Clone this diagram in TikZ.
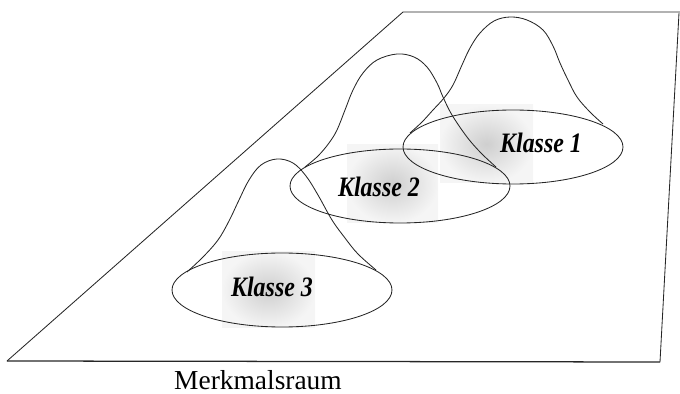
\documentclass[tikz,border=0pt]{standalone}
\usepackage{fontspec}
\setmainfont{Liberation Serif}
\usepackage{tikz}

\begin{document}
\begin{tikzpicture}[x=0.025cm, y=-0.025cm,
  linie/.style={draw=black!85, line width=0.6pt},
  glocke/.style={linie, smooth, tension=0.6},
  wolke/.style={inner color=gray!38, outer color=gray!8},
  klasse/.style={font=\fontsize{20}{24}\selectfont\bfseries\itshape,
    xscale=0.85, inner sep=0pt}]
  \useasboundingbox (0,0) rectangle (680,394);
  % Ebene
  \coordinate (ul) at (7,361);
  \coordinate (ol) at (403,12);
  \coordinate (or) at (680,12);
  \coordinate (ur) at (660,362);
  \draw[linie] (ul) -- (ol) -- (or);
  \draw[linie] (679,13) -- (ur);
  \draw[linie, line width=0.9pt] (ul) -- (ur);
  % Verteilungen
  \shade[wolke] (222,252) rectangle (315,328);
  \shade[wolke] (347,145) rectangle (438,223);
  \shade[wolke] (440,105) rectangle (533,183);
  \draw[linie] (282,290) ellipse [x radius=110, y radius=37];
  \draw[linie] (400,186) ellipse [x radius=110, y radius=37];
  \draw[linie] (513,147) ellipse [x radius=110, y radius=37];
  \draw[glocke] plot coordinates {(187,272) (203,257) (218,240) (229,221)
    (239,200) (249,180) (261,165) (277,159) (293,163) (306,176) (318,195)
    (332,220) (345,238) (358,254) (376,270)};
  \draw[glocke] plot coordinates {(305,167) (318,156) (329,143) (337,130)
    (345,110) (353,90) (363,73) (377,60) (397,54) (414,57) (427,67)
    (437,83) (443,97) (452,115) (467,137) (481,153) (496,167)};
  \draw[glocke] plot coordinates {(410,133) (422,122) (433,110) (444,98)
    (453,85) (462,65) (470,48) (480,33) (494,21) (510,17) (527,20)
    (543,30) (553,46) (560,63) (568,80) (577,97) (590,112) (603,124)};
  \node[klasse] (k1) at (541,143) {Klasse 1};
  \node[klasse] (k2) at (379,187) {Klasse 2};
  \node[klasse] (k3) at (272,287) {Klasse 3};
  \node[font=\fontsize{19.5}{23}\selectfont, inner sep=0pt] (raum) at (258,380) {Merkmalsraum};
\end{tikzpicture}
\end{document}
